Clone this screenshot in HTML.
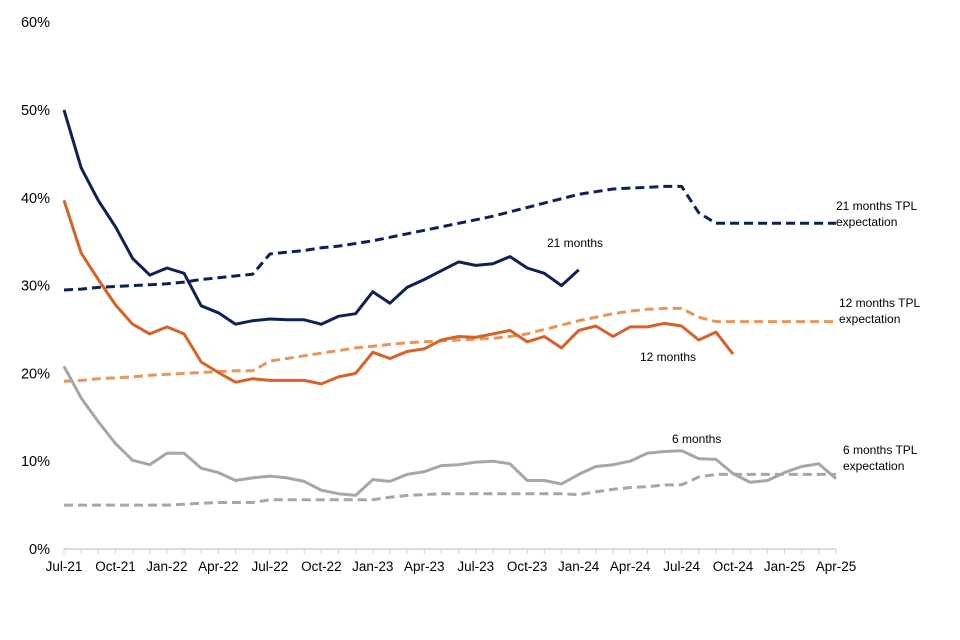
<!DOCTYPE html>
<html><head><meta charset="utf-8"><style>
body{margin:0;background:#fff;}
svg{display:block;font-family:"Liberation Sans",Arial,sans-serif;}
</style></head><body>
<svg id="chart" width="960" height="640" viewBox="0 0 960 640" xmlns="http://www.w3.org/2000/svg"></svg>
<script>
const xLabels=["Jul-21","Oct-21","Jan-22","Apr-22","Jul-22","Oct-22","Jan-23","Apr-23","Jul-23","Oct-23","Jan-24","Apr-24","Jul-24","Oct-24","Jan-25","Apr-25"];
const yTicks=[0,10,20,30,40,50,60];
const m21=[50.0,43.4,39.7,36.7,33.1,31.2,32.0,31.4,27.7,26.9,25.6,26.0,26.2,26.1,26.1,25.6,26.5,26.8,29.3,28.0,29.8,30.7,31.7,32.7,32.3,32.5,33.3,32.0,31.4,30.0,31.8];
const m21tpl=[29.5,29.6,29.8,29.9,30.0,30.1,30.2,30.4,30.7,30.9,31.1,31.3,33.6,33.8,34.0,34.3,34.5,34.8,35.1,35.5,35.9,36.3,36.7,37.1,37.5,37.9,38.4,38.9,39.4,39.9,40.4,40.7,41.0,41.1,41.2,41.3,41.3,38.3,37.1,37.1,37.1,37.1,37.1,37.1,37.1,37.1];
const m12=[39.7,33.7,30.7,27.8,25.6,24.5,25.3,24.5,21.3,20.1,19.0,19.4,19.2,19.2,19.2,18.8,19.6,20.0,22.4,21.7,22.5,22.8,23.8,24.2,24.1,24.5,24.9,23.6,24.2,22.9,24.9,25.4,24.2,25.3,25.3,25.7,25.4,23.8,24.7,22.2];
const m12tpl=[19.1,19.2,19.4,19.5,19.6,19.8,19.9,20.0,20.1,20.2,20.3,20.3,21.4,21.7,22.0,22.3,22.6,22.9,23.1,23.3,23.5,23.6,23.7,23.8,23.9,24.0,24.2,24.5,25.0,25.5,26.0,26.4,26.8,27.1,27.3,27.4,27.4,26.4,25.9,25.9,25.9,25.9,25.9,25.9,25.9,25.9];
const m6=[20.8,17.2,14.5,12.0,10.1,9.6,10.9,10.9,9.2,8.7,7.8,8.1,8.3,8.1,7.7,6.7,6.3,6.1,7.9,7.7,8.5,8.8,9.5,9.6,9.9,10.0,9.7,7.8,7.8,7.4,8.5,9.4,9.6,10.0,10.9,11.1,11.2,10.3,10.2,8.6,7.6,7.8,8.7,9.4,9.7,8.0];
const m6tpl=[5.0,5.0,5.0,5.0,5.0,5.0,5.0,5.1,5.2,5.3,5.3,5.3,5.6,5.6,5.6,5.6,5.6,5.6,5.6,5.9,6.1,6.2,6.3,6.3,6.3,6.3,6.3,6.3,6.3,6.3,6.2,6.5,6.8,7.0,7.1,7.3,7.3,8.2,8.5,8.5,8.5,8.5,8.5,8.5,8.5,8.5];

const NS="http://www.w3.org/2000/svg";
const svg=document.getElementById('chart');
const x0=64,dx=17.155,y0=549,ky=8.78;
const X=i=>x0+i*dx;
const Y=v=>y0-v*ky;
function mk(tag,at){const e=document.createElementNS(NS,tag);for(const k in at)e.setAttribute(k,at[k]);svg.appendChild(e);return e;}
const ax=mk('line',{x1:x0,y1:y0,x2:X(45),y2:y0,stroke:'#d0d0d0','stroke-width':1.5});


for(let i=0;i<=45;i++){const t=mk('line',{x1:X(i),y1:y0,x2:X(i),y2:y0+5,stroke:'#d0d0d0','stroke-width':1});

}
xLabels.forEach((l,i)=>{const t=mk('text',{x:X(i*3),y:571,'text-anchor':'middle','font-size':13.5,fill:'#000'});t.textContent=l;

});
yTicks.forEach(v=>{const t=mk('text',{x:50,y:Y(v)+5,'text-anchor':'end','font-size':14.5,fill:'#000'});t.textContent=v+'%';

});
function line(arr,color,dash,name){
 const d=arr.map((v,i)=>(i?'L':'M')+X(i).toFixed(1)+','+Y(v).toFixed(1)).join(' ');
 const p=mk('path',{d:d,fill:'none',stroke:color,'stroke-width':3,'stroke-linejoin':'round'});
 if(dash)p.setAttribute('stroke-dasharray','9,5');
 
 
}
const navy='#0e2155',orange='#d5622a',orangeL='#e8955a',grey='#a6a6a6';
line(m6tpl,grey,true,'6-months-tpl-line');
line(m12tpl,orangeL,true,'12-months-tpl-line');
line(m21tpl,navy,true,'21-months-tpl-line');
line(m6,grey,false,'6-months-line');
line(m12,orange,false,'12-months-line');
line(m21,navy,false,'21-months-line');
function label(txt,x,y,name){const t=mk('text',{x:x,y:y,'font-size':12,fill:'#000'});t.textContent=txt;

}
label('21 months',547,247,'21-months-label');
label('12 months',640,361,'12-months-label');
label('6 months',672,443,'6-months-label');
label('21 months TPL',836,210,'21-tpl-label');
label('expectation',836,226,'21-tpl-label-2');
label('12 months TPL',839,307,'12-tpl-label');
label('expectation',839,323,'12-tpl-label-2');
label('6 months TPL',843,454,'6-tpl-label');
label('expectation',843,470,'6-tpl-label-2');
</script>
</body></html>
